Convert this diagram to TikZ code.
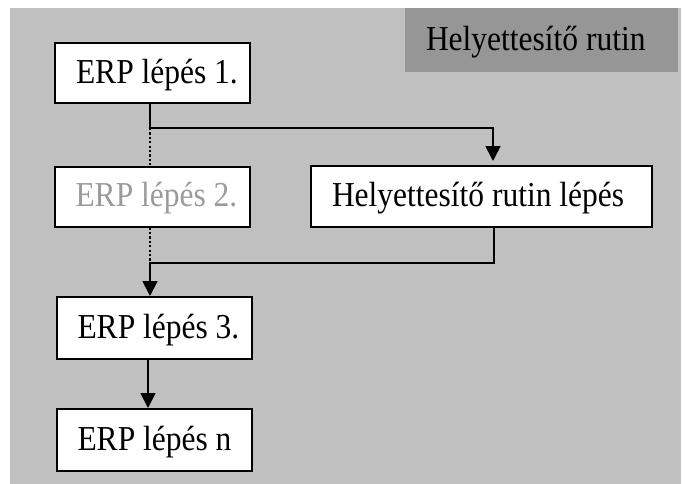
\documentclass[tikz,border=0pt]{standalone}
\usepackage{fontspec}
\setmainfont{Liberation Serif}
\usetikzlibrary{arrows.meta}
\definecolor{panel}{RGB}{192,192,192}
\definecolor{header}{RGB}{150,150,150}
\definecolor{faded}{RGB}{155,155,155}
% left-aligned, slightly condensed caption filling a box of the given width
\newcommand\padtext[2]{\makebox[#1][l]{\hspace{21pt}\raisebox{-2pt}[\height][\depth]{\scalebox{0.9}[1]{#2}}}}
\tikzset{
  stepbox/.style={draw=black, line width=2pt, fill=white, inner sep=0pt,
    minimum height=60pt, font=\fontsize{35}{40}\selectfont},
  flow/.style={line width=1.8pt},
  arrow/.style={flow, -{Triangle[width=15pt,length=15pt]}},
  skip/.style={line width=2.6pt, dash pattern=on 2.2pt off 2.2pt}
}
\begin{document}
\begin{tikzpicture}[x=1pt,y=-1pt]
  \useasboundingbox (0,0) rectangle (685,484);
  % grey panel and the title plate
  \fill[panel] (10,8) rectangle (681,484);
  \node[fill=header, inner sep=0pt, minimum height=64pt,
        font=\fontsize{35}{40}\selectfont] (title) at (541.5,40)
        {\padtext{273pt}{Helyettesítő rutin}};

  % process steps
  \node[stepbox] (s1) at (152.5,73) {\padtext{195pt}{ERP lépés 1.}};
  \node[stepbox, text=faded] (s2) at (152,196.5) {\padtext{195pt}{ERP lépés 2.}};
  \node[stepbox, minimum height=61pt] (rb) at (481.5,196.5) {\padtext{341pt}{Helyettesítő rutin lépés}};
  \node[stepbox, minimum height=62pt] (s3) at (154,328) {\padtext{195pt}{ERP lépés 3.}};
  \node[stepbox, minimum height=62pt] (sn) at (154,440) {\padtext{195pt}{ERP lépés n}};

  % junction points of the detour
  \coordinate (a) at (150,128);
  \coordinate (b) at (493,128);
  \coordinate (c) at (150,263);
  \coordinate (d) at (494,263);

  % detour through the substitute routine
  \draw[arrow, shorten >=4pt] (s1.south -| a) -- (a) -- (b) -- (b |- rb.north);
  \draw[arrow] (rb.south -| d) -- (d) -- (c) -- (c |- s3.north);

  % skipped step
  \draw[skip] (a) -- (s2.north -| a);
  \draw[skip] (s2.south -| a) -- (c);

  % last step
  \draw[arrow] ([xshift=-6pt]s3.south) -- ([xshift=-6pt]sn.north);
\end{tikzpicture}
\end{document}
